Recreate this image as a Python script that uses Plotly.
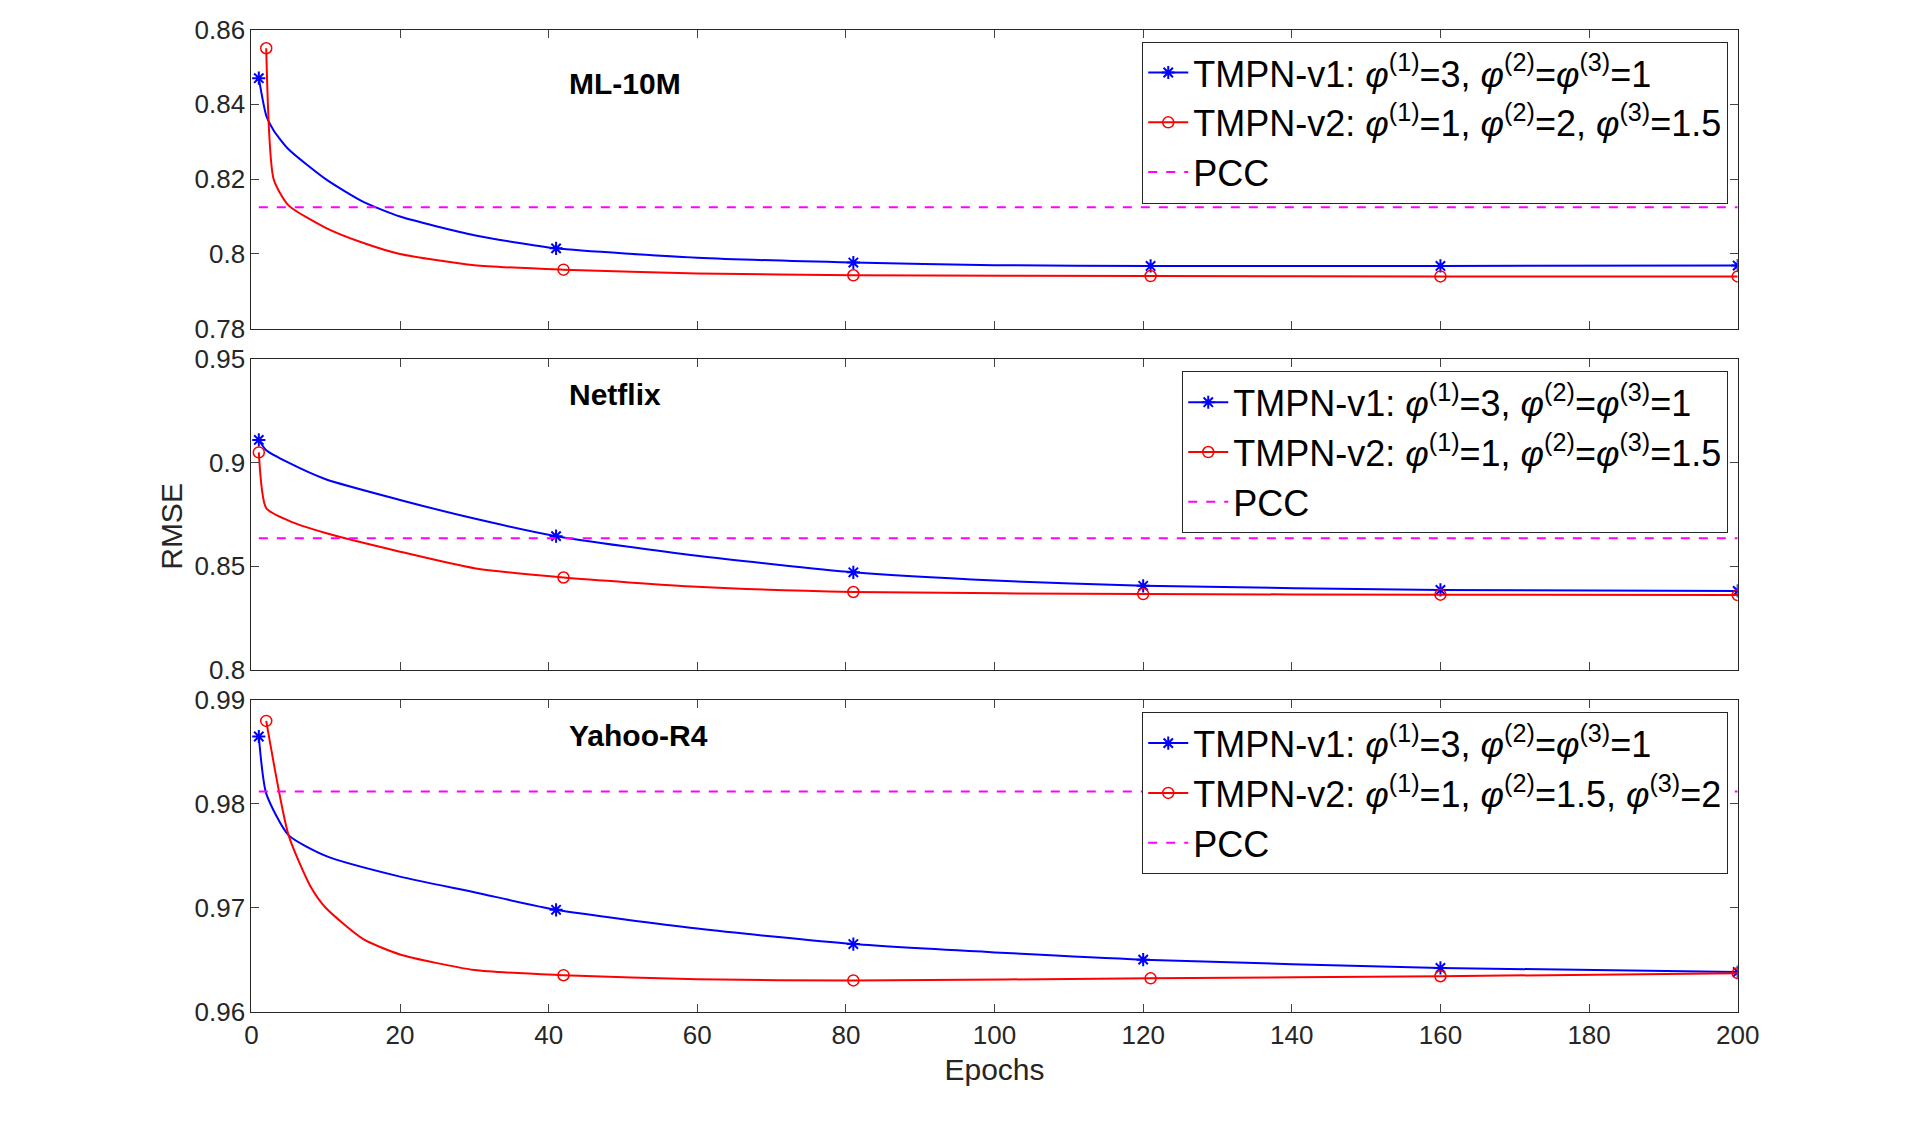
import plotly.graph_objects as go
from plotly.subplots import make_subplots

# ML-10M
ml_v1_x = [1, 2, 3, 5, 10, 15, 20, 30, 41, 60, 81, 100, 121, 160, 200]
ml_v1_y = [0.847, 0.837, 0.833, 0.828, 0.820, 0.814, 0.810, 0.805, 0.8015, 0.799, 0.7977, 0.797, 0.7968, 0.7968, 0.7969]
ml_v1_mx = [1, 41, 81, 121, 160, 200]
ml_v2_x = [2, 3, 5, 10, 15, 20, 30, 42, 60, 81, 121, 160, 200]
ml_v2_y = [0.855, 0.820, 0.813, 0.807, 0.803, 0.800, 0.797, 0.7958, 0.7948, 0.7943, 0.7941, 0.794, 0.794]
ml_v2_mx = [2, 42, 81, 121, 160, 200]
ml_pcc = 0.8125

# Netflix
nf_v1_x = [1, 2, 5, 10, 20, 30, 41, 60, 81, 100, 120, 160, 200]
nf_v1_y = [0.911, 0.906, 0.900, 0.892, 0.882, 0.873, 0.8645, 0.855, 0.847, 0.843, 0.8405, 0.8385, 0.838]
nf_v1_mx = [1, 41, 81, 120, 160, 200]
nf_v2_x = [1, 2, 5, 10, 20, 30, 42, 60, 81, 120, 160, 200]
nf_v2_y = [0.905, 0.878, 0.872, 0.866, 0.857, 0.849, 0.8445, 0.840, 0.8375, 0.8365, 0.8362, 0.836]
nf_v2_mx = [1, 42, 81, 120, 160, 200]
nf_pcc = 0.8635

# Yahoo-R4
yh_v1_x = [1, 2, 5, 10, 20, 30, 41, 60, 81, 120, 160, 200]
yh_v1_y = [0.9865, 0.981, 0.977, 0.975, 0.973, 0.9715, 0.9698, 0.968, 0.9665, 0.965, 0.9642, 0.9638]
yh_v1_mx = [1, 41, 81, 120, 160, 200]
yh_v2_x = [2, 5, 8, 10, 15, 20, 30, 42, 60, 81, 121, 160, 200]
yh_v2_y = [0.988, 0.977, 0.972, 0.970, 0.967, 0.9655, 0.964, 0.9635, 0.9631, 0.963, 0.9632, 0.9634, 0.9637]
yh_v2_mx = [2, 42, 81, 121, 160, 200]
yh_pcc = 0.9812

phi = "<i>φ</i>"
panels = [
    ("ML-10M", ml_v1_x, ml_v1_y, ml_v1_mx, ml_v2_x, ml_v2_y, ml_v2_mx, ml_pcc,
     f"TMPN-v1: {phi}<sup>(1)</sup>=3, {phi}<sup>(2)</sup>={phi}<sup>(3)</sup>=1",
     f"TMPN-v2: {phi}<sup>(1)</sup>=1, {phi}<sup>(2)</sup>=2, {phi}<sup>(3)</sup>=1.5",
     [0.78, 0.86], 0.02),
    ("Netflix", nf_v1_x, nf_v1_y, nf_v1_mx, nf_v2_x, nf_v2_y, nf_v2_mx, nf_pcc,
     f"TMPN-v1: {phi}<sup>(1)</sup>=3, {phi}<sup>(2)</sup>={phi}<sup>(3)</sup>=1",
     f"TMPN-v2: {phi}<sup>(1)</sup>=1, {phi}<sup>(2)</sup>={phi}<sup>(3)</sup>=1.5",
     [0.8, 0.95], 0.05),
    ("Yahoo-R4", yh_v1_x, yh_v1_y, yh_v1_mx, yh_v2_x, yh_v2_y, yh_v2_mx, yh_pcc,
     f"TMPN-v1: {phi}<sup>(1)</sup>=3, {phi}<sup>(2)</sup>={phi}<sup>(3)</sup>=1",
     f"TMPN-v2: {phi}<sup>(1)</sup>=1, {phi}<sup>(2)</sup>=1.5, {phi}<sup>(3)</sup>=2",
     [0.96, 0.99], 0.01),
]

def interp(xs, ys, xq):
    out = []
    for q in xq:
        for i in range(len(xs) - 1):
            if xs[i] <= q <= xs[i + 1]:
                t = (q - xs[i]) / (xs[i + 1] - xs[i])
                out.append(ys[i] + t * (ys[i + 1] - ys[i]))
                break
    return out

fig = make_subplots(rows=3, cols=1, shared_xaxes=False, vertical_spacing=0.03)
domains = [[0.7205, 0.994], [0.409, 0.6926], [0.0964, 0.381]]
font = "Liberation Sans, Arial, sans-serif"
blue, red, mag = "#0000ff", "#ff0000", "#ff00ff"

for i, (name, x1, y1, m1, x2, y2, m2, pcc, l1, l2, yr, dt) in enumerate(panels):
    r = i + 1
    lg = "legend" if i == 0 else f"legend{r}"
    fig.add_trace(go.Scatter(x=x1, y=y1, mode="lines", line=dict(color=blue, width=2, shape="spline", smoothing=0.6),
                             showlegend=False), row=r, col=1)
    fig.add_trace(go.Scatter(x=m1, y=interp(x1, y1, m1), mode="markers", showlegend=False,
                             marker=dict(symbol="asterisk-open", size=11, color=blue, line=dict(color=blue, width=2))), row=r, col=1)
    fig.add_trace(go.Scatter(x=x2, y=y2, mode="lines", line=dict(color=red, width=2, shape="spline", smoothing=0.6),
                             showlegend=False), row=r, col=1)
    fig.add_trace(go.Scatter(x=m2, y=interp(x2, y2, m2), mode="markers", showlegend=False,
                             marker=dict(symbol="circle-open", size=11, color=red, line=dict(color=red, width=1.5))), row=r, col=1)
    fig.add_trace(go.Scatter(x=[1, 200], y=[pcc, pcc], mode="lines", showlegend=False,
                             line=dict(color=mag, width=2, dash="dash")), row=r, col=1)
    # legend entries
    fig.add_trace(go.Scatter(x=[None], y=[None], mode="lines+markers", name=l1, legend=lg,
                             line=dict(color=blue, width=2),
                             marker=dict(symbol="asterisk-open", size=11, color=blue, line=dict(color=blue, width=2))), row=r, col=1)
    fig.add_trace(go.Scatter(x=[None], y=[None], mode="lines+markers", name=l2, legend=lg,
                             line=dict(color=red, width=2),
                             marker=dict(symbol="circle-open", size=11, color=red, line=dict(color=red, width=1.5))), row=r, col=1)
    fig.add_trace(go.Scatter(x=[None], y=[None], mode="lines", name="PCC", legend=lg,
                             line=dict(color=mag, width=2, dash="dash")), row=r, col=1)
    xa = "xaxis" if i == 0 else f"xaxis{r}"
    ya = "yaxis" if i == 0 else f"yaxis{r}"
    fig.layout[xa].update(domain=[0.125, 0.911], range=[0, 200], dtick=20, showticklabels=(r == 3),
                          ticks="inside", ticklen=8, mirror="ticks", showline=True, linecolor="#262626",
                          linewidth=1, showgrid=False, zeroline=False,
                          tickfont=dict(size=26, color="#262626", family=font))
    fig.layout[ya].update(domain=domains[i], range=yr, dtick=dt, ticks="inside", ticklen=8, mirror="ticks",
                          showline=True, linecolor="#262626", linewidth=1, showgrid=False, zeroline=False,
                          tickfont=dict(size=26, color="#262626", family=font))
    fig.layout[lg] = dict(x=0.906, y=domains[i][1] - 0.011, xanchor="right", yanchor="top",
                          bgcolor="white", bordercolor="#262626", borderwidth=1,
                          font=dict(size=36, color="black", family=font), tracegroupgap=0, itemwidth=40)
    fig.add_annotation(text=f"<b>{name}</b>", x=0.292, y=domains[i][1] - 0.032, xref="paper", yref="paper",
                       showarrow=False, font=dict(size=30, color="black", family=font))

fig.layout.xaxis3.title = dict(text="Epochs", font=dict(size=30, color="#262626", family=font), standoff=10)
fig.add_annotation(text="RMSE", x=0.073, y=0.54, xref="paper", yref="paper", textangle=-90,
                   showarrow=False, font=dict(size=30, color="#262626", family=font))
fig.update_layout(width=1920, height=1124, plot_bgcolor="white", paper_bgcolor="white",
                  margin=dict(l=0, r=0, t=0, b=0))
fig.write_html("out.html")
